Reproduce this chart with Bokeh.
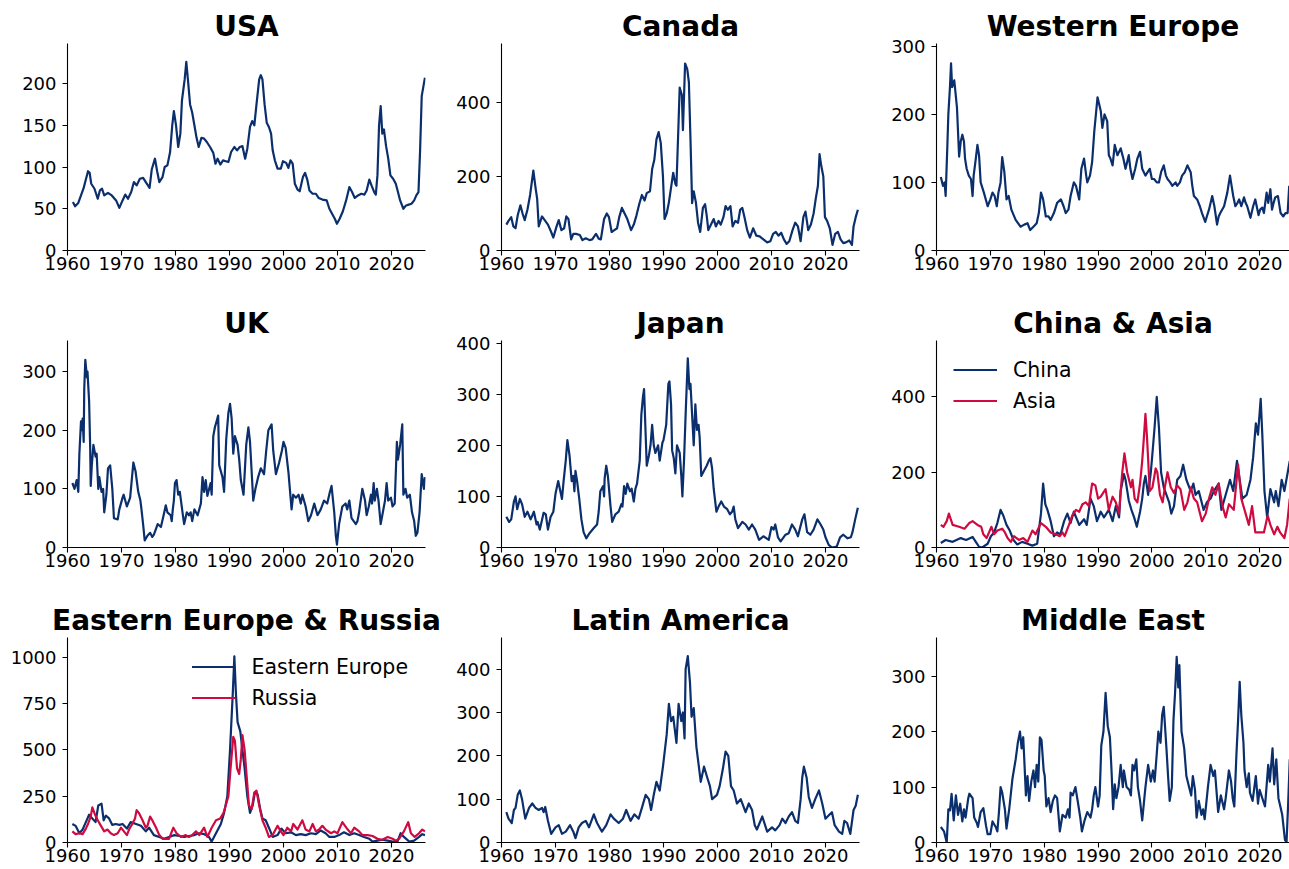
from bokeh.plotting import figure
from bokeh.layouts import column, row
from bokeh.models import Range1d, FixedTicker
from bokeh.embed import file_html
from bokeh.resources import INLINE

NAVY = "#0b2f6d"
RED = "#cf0a40"
FONT = "DejaVu Sans"

x_ticks = [1960, 1970, 1980, 1990, 2000, 2010, 2020]

# ---------------- data ----------------
usa_x = [1961.0, 1961.4, 1962.0, 1962.5, 1963.0, 1963.4, 1963.8, 1964.1, 1964.4, 1965.0, 1965.6, 1966.0, 1966.4, 1966.8, 1967.5, 1968.2, 1969.0, 1969.6, 1970.2, 1970.7, 1971.2, 1971.8, 1972.3, 1972.8, 1973.4, 1974.0, 1974.5, 1975.2, 1975.6, 1976.2, 1976.6, 1977.0, 1977.6, 1978.0, 1978.5, 1979.0, 1979.4, 1979.7, 1980.1, 1980.5, 1980.9, 1981.2, 1981.7, 1982.0, 1982.3, 1982.7, 1983.1, 1983.5, 1983.9, 1984.3, 1984.8, 1985.3, 1985.8, 1986.4, 1987.0, 1987.4, 1987.8, 1988.3, 1988.8, 1989.3, 1989.8, 1990.3, 1990.9, 1991.4, 1991.9, 1992.4, 1992.9, 1993.3, 1993.8, 1994.2, 1994.6, 1995.0, 1995.5, 1995.8, 1996.1, 1996.5, 1996.9, 1997.3, 1997.7, 1998.0, 1998.4, 1998.9, 1999.5, 1999.9, 2000.5, 2000.9, 2001.3, 2001.7, 2002.1, 2002.6, 2003.0, 2003.6, 2004.0, 2004.4, 2004.8, 2005.4, 2006.0, 2006.5, 2007.2, 2008.0, 2008.5, 2009.0, 2009.5, 2009.9, 2010.4, 2011.0, 2011.6, 2012.2, 2012.7, 2013.2, 2013.8, 2014.4, 2015.0, 2015.4, 2015.9, 2016.3, 2016.8, 2017.1, 2017.4, 2017.7, 2018.0, 2018.3, 2018.6, 2019.0, 2019.4, 2019.8, 2020.3, 2020.8, 2021.2, 2021.6, 2022.2, 2022.7, 2023.2, 2023.7, 2024.2, 2024.6, 2025.0, 2025.3, 2025.6, 2026.0, 2026.2]
usa_y = [58, 53, 57, 66, 75, 85, 95, 93, 80, 74, 62, 72, 74, 66, 69, 66, 60, 51, 60, 67, 62, 70, 82, 78, 86, 87, 82, 75, 97, 110, 95, 82, 88, 100, 102, 118, 150, 167, 150, 124, 140, 180, 205, 226, 205, 175, 165, 150, 135, 124, 135, 134, 130, 124, 117, 104, 110, 103, 108, 107, 106, 118, 124, 120, 124, 125, 110, 122, 148, 155, 150, 175, 205, 210, 205, 175, 153, 148, 140, 120, 108, 98, 98, 107, 105, 99, 108, 104, 80, 73, 71, 88, 93, 85, 72, 68, 68, 63, 61, 60, 50, 44, 38, 32, 38, 47, 60, 76, 70, 63, 66, 68, 67, 72, 85, 78, 70, 67, 90, 150, 173, 140, 145, 125, 110, 90, 86, 80, 70, 60, 50, 54, 55, 56, 60, 66, 70, 120, 185, 200, 207]

canada_x = [1960.9, 1961.3, 1961.8, 1962.2, 1962.6, 1963.0, 1963.5, 1963.9, 1964.3, 1964.8, 1965.3, 1965.9, 1966.3, 1966.6, 1966.9, 1967.5, 1968.0, 1968.6, 1969.2, 1969.6, 1970.2, 1970.6, 1971.1, 1971.6, 1972.0, 1972.4, 1972.9, 1973.3, 1973.8, 1974.5, 1975.0, 1975.6, 1976.3, 1976.8, 1977.5, 1978.0, 1978.4, 1979.0, 1979.5, 1979.9, 1980.4, 1980.9, 1981.4, 1981.8, 1982.3, 1982.8, 1983.3, 1984.0, 1984.5, 1985.0, 1985.5, 1986.0, 1986.5, 1986.9, 1987.5, 1987.9, 1988.3, 1988.7, 1989.1, 1989.5, 1989.9, 1990.2, 1990.6, 1991.0, 1991.5, 1991.8, 1992.2, 1992.4, 1992.8, 1993.0, 1993.4, 1993.6, 1994.0, 1994.4, 1994.7, 1995.0, 1995.3, 1995.6, 1996.0, 1996.4, 1996.8, 1997.3, 1997.7, 1998.0, 1998.3, 1998.8, 1999.3, 1999.7, 2000.2, 2000.6, 2001.1, 2001.5, 2001.9, 2002.4, 2002.8, 2003.3, 2003.8, 2004.2, 2004.6, 2005.0, 2005.5, 2006.0, 2006.6, 2007.2, 2007.8, 2008.5, 2009.2, 2009.8, 2010.3, 2010.8, 2011.3, 2011.8, 2012.3, 2012.8, 2013.3, 2013.9, 2014.4, 2014.9, 2015.4, 2015.9, 2016.3, 2016.8, 2017.3, 2017.8, 2018.2, 2018.6, 2018.9, 2019.2, 2019.6, 2019.9, 2020.3, 2020.8, 2021.3, 2021.8, 2022.3, 2022.8, 2023.3, 2023.8, 2024.4, 2024.9, 2025.2, 2025.6, 2026.0]
canada_y = [70, 80, 90, 65, 60, 95, 122, 100, 82, 110, 150, 216, 170, 140, 65, 92, 82, 70, 50, 35, 65, 82, 55, 60, 92, 85, 30, 45, 45, 42, 28, 33, 28, 30, 45, 32, 30, 85, 100, 90, 50, 55, 60, 90, 115, 100, 85, 55, 70, 95, 125, 150, 135, 155, 160, 220, 245, 300, 320, 290, 200, 85, 100, 130, 180, 210, 180, 175, 350, 440, 420, 325, 505, 490, 455, 300, 128, 160, 130, 75, 50, 115, 125, 95, 55, 70, 85, 65, 80, 70, 90, 120, 110, 120, 65, 80, 75, 110, 115, 90, 55, 35, 60, 40, 38, 30, 22, 25, 45, 50, 40, 48, 30, 18, 25, 55, 75, 65, 25, 90, 105, 55, 70, 100, 140, 175, 260, 230, 200, 90, 80, 60, 15, 45, 50, 30, 20, 22, 27, 15, 65, 90, 110]

weu_x = [1960.8, 1961.2, 1961.5, 1961.7, 1962.0, 1962.2, 1962.5, 1962.7, 1962.9, 1963.3, 1963.8, 1964.2, 1964.5, 1964.8, 1965.1, 1965.3, 1965.6, 1966.0, 1966.4, 1966.7, 1966.9, 1967.3, 1967.6, 1967.9, 1968.2, 1968.8, 1969.5, 1970.0, 1970.4, 1970.8, 1971.2, 1971.5, 1971.9, 1972.2, 1972.6, 1973.0, 1973.4, 1973.9, 1974.7, 1975.6, 1976.3, 1976.9, 1977.4, 1978.0, 1978.6, 1979.0, 1979.4, 1979.8, 1980.3, 1980.8, 1981.2, 1981.8, 1982.4, 1983.1, 1983.6, 1984.0, 1984.5, 1984.9, 1985.5, 1985.9, 1986.5, 1986.9, 1987.4, 1987.8, 1988.0, 1988.5, 1988.9, 1989.3, 1989.9, 1990.2, 1990.5, 1990.8, 1991.2, 1991.7, 1992.0, 1992.3, 1992.7, 1993.1, 1993.6, 1994.2, 1994.7, 1995.1, 1995.7, 1996.0, 1996.4, 1996.9, 1997.3, 1997.8, 1998.2, 1998.8, 1999.2, 1999.6, 2000.0, 2000.4, 2000.9, 2001.3, 2001.7, 2002.2, 2002.6, 2002.9, 2003.4, 2003.8, 2004.4, 2004.7, 2005.2, 2005.6, 2006.1, 2006.6, 2007.2, 2007.5, 2007.8, 2008.4, 2008.9, 2009.3, 2009.9, 2010.2, 2010.6, 2011.2, 2011.6, 2012.1, 2012.4, 2012.7, 2013.4, 2014.0, 2014.5, 2014.8, 2015.1, 2015.5, 2015.9, 2016.2, 2016.6, 2017.1, 2017.4, 2017.7, 2018.3, 2018.8, 2019.2, 2019.8, 2020.1, 2020.5, 2020.8, 2021.3, 2021.6, 2022.0, 2022.3, 2022.6, 2022.9, 2023.4, 2023.9, 2024.4, 2024.8, 2025.2, 2025.5]
weu_y = [108, 95, 100, 80, 150, 200, 240, 275, 240, 250, 210, 138, 160, 170, 160, 135, 120, 110, 105, 80, 110, 135, 155, 140, 100, 85, 65, 75, 85, 80, 65, 85, 100, 137, 115, 75, 80, 60, 45, 35, 38, 40, 30, 35, 40, 55, 85, 75, 50, 50, 45, 55, 70, 75, 65, 55, 60, 80, 100, 95, 75, 120, 135, 110, 100, 110, 130, 175, 225, 215, 205, 180, 200, 190, 140, 135, 125, 155, 140, 150, 135, 120, 140, 120, 105, 120, 135, 145, 120, 110, 115, 120, 105, 105, 100, 100, 115, 125, 110, 105, 100, 95, 100, 95, 100, 110, 115, 125, 115, 95, 80, 75, 65, 55, 42, 50, 60, 80, 65, 38, 50, 55, 65, 85, 110, 95, 80, 65, 70, 75, 65, 78, 70, 65, 48, 65, 75, 52, 60, 63, 55, 85, 70, 90, 60, 70, 78, 80, 55, 50, 55, 55, 95]

uk_x = [1960.9, 1961.3, 1961.7, 1962.0, 1962.2, 1962.5, 1962.7, 1962.8, 1963.0, 1963.1, 1963.3, 1963.6, 1963.7, 1964.0, 1964.2, 1964.3, 1964.5, 1964.8, 1965.2, 1965.4, 1965.7, 1965.9, 1966.3, 1966.6, 1966.8, 1967.2, 1967.5, 1967.9, 1968.3, 1968.6, 1969.3, 1969.6, 1970.2, 1970.4, 1971.0, 1971.4, 1971.6, 1971.9, 1972.2, 1972.6, 1973.1, 1973.5, 1973.7, 1974.0, 1974.3, 1974.8, 1975.3, 1975.7, 1976.0, 1976.7, 1977.3, 1977.8, 1978.2, 1978.5, 1979.1, 1979.3, 1979.5, 1979.7, 1979.9, 1980.2, 1980.5, 1980.8, 1981.3, 1981.6, 1982.1, 1982.5, 1982.8, 1983.1, 1983.5, 1984.1, 1984.4, 1984.7, 1985.0, 1985.3, 1985.6, 1985.9, 1986.5, 1986.7, 1987.0, 1987.3, 1987.6, 1987.9, 1988.1, 1988.7, 1989.0, 1989.2, 1989.4, 1989.8, 1990.1, 1990.4, 1990.7, 1991.0, 1991.5, 1991.8, 1992.1, 1992.6, 1993.1, 1993.5, 1993.8, 1994.4, 1994.8, 1995.3, 1995.8, 1996.4, 1996.8, 1997.2, 1997.8, 1998.1, 1998.6, 1999.2, 1999.7, 2000.0, 2000.4, 2000.9, 2001.5, 2001.8, 2002.3, 2002.8, 2003.2, 2003.5, 2004.1, 2004.6, 2005.1, 2005.7, 2006.3, 2006.9, 2007.5, 2008.1, 2008.6, 2008.9, 2009.4, 2009.7, 2009.9, 2010.3, 2010.9, 2011.5, 2011.8, 2012.2, 2012.6, 2013.4, 2013.7, 2014.0, 2014.6, 2015.1, 2015.4, 2015.8, 2016.2, 2016.4, 2016.7, 2016.9, 2017.3, 2017.6, 2018.0, 2018.3, 2018.8, 2019.1, 2019.4, 2019.9, 2020.2, 2020.6, 2021.0, 2021.2, 2021.6, 2022.0, 2022.2, 2022.6, 2022.9, 2023.4, 2023.8, 2024.2, 2024.5, 2024.8, 2025.2, 2025.6, 2026.0, 2026.2]
uk_y = [110, 100, 115, 95, 160, 215, 200, 220, 180, 270, 320, 290, 300, 250, 170, 105, 140, 175, 155, 160, 100, 120, 95, 100, 60, 90, 135, 140, 100, 50, 48, 65, 85, 90, 70, 80, 85, 115, 145, 130, 95, 80, 65, 40, 12, 20, 25, 18, 22, 40, 35, 55, 72, 60, 55, 45, 65, 80, 110, 115, 90, 95, 60, 40, 60, 55, 60, 45, 65, 55, 65, 75, 120, 95, 115, 88, 110, 90, 190, 205, 215, 225, 140, 120, 95, 140, 185, 230, 245, 220, 160, 190, 175, 150, 115, 90, 175, 205, 180, 80, 100, 120, 135, 125, 165, 200, 210, 165, 125, 145, 165, 180, 170, 130, 65, 90, 85, 90, 75, 90, 70, 45, 55, 75, 55, 65, 80, 75, 95, 105, 60, 20, 5, 40, 70, 75, 65, 80, 50, 40, 45, 60, 100, 80, 55, 70, 90, 75, 110, 80, 100, 80, 40, 55, 80, 110, 80, 85, 70, 75, 180, 150, 175, 210, 90, 100, 85, 90, 60, 45, 20, 25, 60, 125, 100, 120]

japan_x = [1960.9, 1961.4, 1961.8, 1962.3, 1962.6, 1962.9, 1963.4, 1963.8, 1964.3, 1964.8, 1965.4, 1966.0, 1966.5, 1966.7, 1967.1, 1967.8, 1968.2, 1968.6, 1969.1, 1969.6, 1970.0, 1970.5, 1970.9, 1971.2, 1971.5, 1971.9, 1972.2, 1972.6, 1973.0, 1973.3, 1973.5, 1973.7, 1974.0, 1974.4, 1974.8, 1975.2, 1975.7, 1976.3, 1977.1, 1977.7, 1978.0, 1978.3, 1978.8, 1979.0, 1979.1, 1979.4, 1979.7, 1980.2, 1980.5, 1981.1, 1981.7, 1982.2, 1982.4, 1982.7, 1983.0, 1983.3, 1983.8, 1984.1, 1984.5, 1984.8, 1985.1, 1985.6, 1985.9, 1986.2, 1986.4, 1986.6, 1986.9, 1987.3, 1987.6, 1987.9, 1988.2, 1988.5, 1989.0, 1989.3, 1989.8, 1990.0, 1990.5, 1990.9, 1991.1, 1991.4, 1991.6, 1991.9, 1992.2, 1992.5, 1993.0, 1993.3, 1993.5, 1993.8, 1994.1, 1994.5, 1994.8, 1995.0, 1995.3, 1995.6, 1995.9, 1996.2, 1996.5, 1996.7, 1997.0, 1997.5, 1998.0, 1998.4, 1998.7, 1999.0, 1999.3, 1999.8, 2000.2, 2000.7, 2001.2, 2001.8, 2002.3, 2002.7, 2003.0, 2003.3, 2003.8, 2004.6, 2005.2, 2005.8, 2006.4, 2007.0, 2007.7, 2008.5, 2009.5, 2010.0, 2010.4, 2010.7, 2011.2, 2011.7, 2012.6, 2013.2, 2013.8, 2014.4, 2014.9, 2015.7, 2016.1, 2016.6, 2017.2, 2017.8, 2018.5, 2019.1, 2019.6, 2020.0, 2020.6, 2021.2, 2022.1, 2022.7, 2023.3, 2024.1, 2024.7, 2025.0, 2025.5, 2026.0]
japan_y = [60, 50, 55, 90, 100, 75, 95, 85, 60, 70, 55, 70, 45, 50, 35, 68, 65, 35, 60, 70, 105, 130, 110, 95, 130, 170, 210, 180, 130, 140, 110, 150, 130, 95, 55, 30, 18, 28, 38, 45, 70, 110, 120, 100, 135, 160, 140, 80, 50, 65, 70, 85, 80, 120, 105, 125, 110, 115, 90, 115, 125, 170, 260, 295, 310, 250, 160, 180, 200, 240, 200, 185, 200, 170, 205, 210, 240, 320, 325, 280, 190, 175, 145, 200, 185, 140, 100, 170, 260, 370, 310, 320, 260, 200, 280, 230, 240, 215, 140, 150, 160, 170, 175, 155, 115, 70, 80, 90, 80, 75, 65, 70, 80, 55, 38, 50, 45, 35, 45, 35, 15, 22, 15, 40, 35, 45, 20, 12, 25, 28, 45, 35, 22, 55, 65, 30, 25, 35, 55, 45, 35, 20, 5, 0, 2, 20, 25, 18, 20, 30, 55, 78]

china_x = [1960.8, 1961.7, 1963.0, 1964.5, 1965.5, 1966.7, 1967.3, 1967.9, 1968.5, 1969.5, 1970.1, 1970.7, 1971.3, 1971.9, 1972.4, 1973.0, 1973.6, 1974.3, 1975.0, 1975.9, 1976.9, 1977.8, 1978.7, 1979.4, 1979.8, 1980.2, 1980.6, 1981.2, 1981.8, 1982.4, 1983.0, 1983.7, 1984.3, 1984.9, 1985.5, 1986.5, 1987.4, 1987.9, 1988.6, 1989.2, 1989.8, 1990.5, 1991.1, 1992.0, 1992.7, 1993.3, 1993.9, 1994.2, 1994.8, 1995.1, 1995.7, 1996.2, 1996.7, 1997.2, 1997.8, 1998.2, 1998.5, 1998.8, 1999.3, 1999.8, 2000.1, 2000.5, 2000.9, 2001.3, 2001.7, 2002.2, 2002.7, 2003.2, 2003.6, 2004.1, 2004.7, 2005.3, 2005.8, 2006.4, 2007.2, 2007.7, 2008.1, 2008.7, 2009.6, 2010.2, 2010.9, 2011.5, 2012.4, 2012.9, 2013.7, 2014.5, 2015.1, 2015.8, 2016.3, 2016.8, 2017.6, 2018.3, 2018.8, 2019.3, 2019.7, 2020.2, 2020.5, 2020.9, 2021.4, 2022.0, 2022.7, 2023.0, 2023.5, 2024.1, 2024.6, 2025.1, 2025.6]
china_y = [12, 20, 15, 25, 20, 28, 15, 2, 0, 10, 30, 40, 65, 100, 85, 60, 45, 20, 8, 15, 10, 5, 10, 90, 170, 115, 100, 70, 30, 40, 35, 70, 90, 65, 95, 60, 75, 60, 130, 110, 70, 95, 80, 100, 70, 110, 80, 150, 195, 180, 125, 100, 80, 55, 95, 130, 170, 190, 140, 200, 250, 320, 400, 320, 200, 160, 140, 120, 90, 110, 180, 190, 220, 180, 150, 170, 140, 150, 100, 120, 130, 150, 170, 100, 140, 180, 150, 230, 180, 130, 140, 180, 240, 330, 300, 395, 300, 150, 80, 155, 120, 150, 110, 180, 150, 190, 230]

asia_x = [1960.8, 1961.3, 1961.9, 1962.3, 1963.0, 1964.2, 1965.2, 1966.1, 1966.7, 1967.6, 1968.3, 1968.7, 1969.3, 1970.2, 1970.7, 1971.3, 1972.2, 1972.7, 1973.2, 1973.8, 1974.4, 1975.3, 1976.1, 1976.9, 1977.8, 1978.4, 1979.4, 1980.3, 1981.2, 1982.1, 1982.9, 1983.4, 1983.8, 1984.6, 1985.2, 1985.9, 1986.5, 1987.1, 1987.7, 1988.3, 1988.9, 1989.5, 1990.0, 1990.5, 1991.4, 1992.0, 1992.7, 1993.3, 1993.9, 1994.2, 1994.5, 1994.9, 1995.4, 1996.1, 1996.4, 1996.8, 1997.3, 1997.8, 1998.2, 1998.5, 1998.8, 1999.1, 1999.6, 2000.1, 2000.7, 2001.0, 2001.5, 2002.0, 2002.4, 2002.9, 2003.5, 2004.1, 2004.7, 2005.3, 2006.0, 2006.6, 2007.2, 2007.8, 2008.4, 2009.3, 2010.0, 2010.6, 2011.2, 2011.8, 2012.4, 2013.1, 2013.7, 2014.3, 2015.2, 2016.0, 2016.6, 2017.4, 2018.0, 2018.6, 2019.2, 2020.0, 2020.8, 2021.5, 2022.0, 2022.7, 2023.3, 2023.8, 2024.6, 2025.1, 2025.6]
asia_y = [60, 55, 70, 90, 60, 55, 50, 65, 70, 60, 55, 35, 25, 55, 35, 45, 50, 40, 25, 15, 30, 20, 25, 15, 45, 35, 65, 55, 40, 35, 30, 40, 30, 60, 85, 100, 95, 115, 120, 110, 170, 165, 130, 135, 155, 100, 135, 120, 90, 150, 200, 250, 200, 160, 180, 130, 120, 170, 230, 290, 355, 290, 150, 160, 210, 200, 140, 120, 160, 200, 160, 145, 165, 155, 100, 120, 160, 130, 120, 70, 90, 130, 160, 140, 170, 110, 80, 115, 100, 220, 130, 90, 60, 110, 40, 40, 40, 85, 60, 35, 55, 40, 25, 60, 130]

eeu_x = [1960.9, 1961.5, 1962.2, 1962.8, 1963.4, 1964.0, 1964.6, 1965.2, 1965.7, 1966.3, 1966.7, 1967.1, 1967.7, 1968.3, 1968.9, 1969.6, 1970.2, 1971.0, 1971.7, 1972.7, 1973.6, 1974.5, 1975.1, 1976.0, 1977.0, 1977.9, 1978.8, 1979.8, 1980.7, 1981.6, 1982.5, 1983.5, 1984.4, 1985.3, 1986.2, 1986.7, 1987.5, 1988.4, 1989.0, 1989.6, 1990.1, 1990.6, 1990.9, 1991.2, 1991.5, 1992.0, 1992.4, 1992.8, 1993.3, 1993.8, 1994.3, 1994.7, 1995.2, 1995.7, 1996.1, 1996.7, 1997.3, 1998.0, 1998.9, 1999.6, 2000.4, 2001.4, 2002.3, 2003.2, 2004.1, 2005.1, 2006.0, 2006.9, 2007.8, 2008.5, 2009.4, 2010.3, 2011.2, 2012.2, 2013.1, 2014.0, 2014.9, 2015.9, 2016.5, 2017.4, 2018.3, 2019.3, 2020.2, 2021.1, 2021.7, 2022.3, 2023.3, 2024.2, 2025.1, 2025.7, 2026.2]
eeu_y = [100, 90, 50, 70, 110, 150, 130, 110, 200, 210, 120, 145, 130, 95, 100, 95, 100, 75, 110, 100, 90, 60, 80, 40, 30, 20, 30, 40, 35, 30, 35, 40, 50, 45, 30, 5, 50, 100, 160, 250, 500, 800, 1005, 800, 650, 600, 500, 400, 250, 160, 200, 270, 260, 180, 130, 120, 80, 30, 40, 75, 50, 55, 40, 45, 40, 50, 45, 65, 50, 30, 30, 40, 55, 40, 50, 40, 30, 20, 5, 10, 15, 10, 5, 5, 50, 30, 5, 10, 30, 45, 40]

russia_x = [1960.9, 1961.5, 1962.2, 1962.8, 1963.4, 1963.8, 1964.3, 1964.6, 1965.1, 1965.6, 1966.2, 1966.8, 1967.4, 1968.0, 1968.6, 1969.3, 1969.9, 1971.0, 1971.4, 1972.0, 1972.5, 1972.8, 1973.2, 1973.9, 1974.5, 1974.8, 1975.3, 1975.7, 1976.4, 1977.0, 1977.6, 1978.8, 1979.6, 1980.2, 1981.0, 1981.9, 1982.5, 1983.1, 1983.8, 1984.4, 1985.3, 1985.9, 1986.7, 1987.5, 1988.3, 1988.9, 1989.3, 1989.8, 1990.2, 1990.7, 1991.0, 1991.4, 1991.8, 1992.1, 1992.4, 1992.8, 1993.2, 1993.6, 1994.1, 1994.6, 1995.0, 1995.5, 1996.1, 1996.7, 1997.3, 1998.0, 1998.9, 1999.5, 2000.0, 2000.7, 2001.4, 2001.8, 2002.6, 2003.5, 2004.1, 2004.8, 2005.4, 2006.0, 2006.6, 2007.2, 2007.8, 2008.8, 2009.4, 2010.0, 2010.9, 2011.9, 2012.5, 2013.1, 2014.0, 2014.6, 2015.6, 2016.5, 2017.4, 2018.3, 2019.3, 2020.2, 2020.8, 2021.4, 2022.3, 2023.1, 2023.6, 2024.3, 2025.1, 2025.7, 2026.2]
russia_y = [60, 45, 50, 45, 75, 100, 140, 190, 150, 120, 90, 60, 70, 50, 40, 50, 80, 40, 70, 100, 130, 175, 160, 120, 80, 90, 140, 120, 80, 40, 20, 20, 80, 50, 30, 40, 30, 40, 60, 40, 80, 30, 80, 120, 130, 160, 200, 250, 400, 570, 550, 400, 370, 450, 580, 500, 350, 200, 180, 270, 280, 200, 120, 80, 30, 40, 90, 60, 40, 80, 60, 100, 70, 120, 70, 60, 100, 60, 70, 90, 70, 50, 60, 50, 110, 70, 50, 80, 60, 40, 40, 35, 20, 15, 30, 20, 10, 20, 60, 110, 50, 30, 50, 70, 60]

latam_x = [1960.9, 1961.3, 1961.9, 1962.3, 1962.6, 1963.0, 1963.4, 1963.8, 1964.4, 1965.1, 1965.7, 1966.3, 1966.9, 1967.5, 1967.8, 1968.1, 1968.6, 1969.2, 1970.0, 1970.6, 1971.2, 1971.9, 1972.7, 1973.3, 1973.7, 1974.3, 1974.9, 1975.6, 1976.2, 1977.1, 1977.7, 1978.6, 1979.4, 1980.2, 1980.8, 1981.7, 1982.5, 1983.1, 1983.9, 1984.6, 1985.4, 1986.0, 1986.7, 1987.3, 1987.7, 1988.2, 1988.7, 1989.3, 1989.9, 1990.6, 1991.0, 1991.4, 1991.8, 1992.4, 1992.8, 1993.3, 1993.6, 1993.9, 1994.1, 1994.5, 1994.9, 1995.2, 1995.6, 1996.1, 1996.5, 1996.9, 1997.5, 1998.1, 1998.6, 1999.0, 1999.9, 2000.4, 2001.0, 2001.5, 2002.0, 2002.5, 2003.0, 2003.6, 2004.3, 2005.2, 2005.8, 2006.4, 2006.9, 2007.3, 2008.3, 2009.2, 2010.1, 2010.7, 2011.5, 2012.0, 2012.6, 2013.2, 2013.8, 2014.4, 2014.9, 2015.4, 2015.7, 2016.0, 2016.5, 2016.9, 2017.5, 2018.1, 2018.8, 2019.4, 2020.0, 2020.8, 2021.2, 2021.7, 2022.5, 2023.1, 2023.5, 2024.0, 2024.6, 2025.2, 2025.6, 2026.0]
latam_y = [70, 55, 45, 75, 80, 110, 120, 100, 55, 80, 90, 80, 75, 80, 70, 82, 50, 20, 35, 40, 20, 25, 40, 25, 10, 35, 45, 50, 35, 65, 45, 25, 40, 65, 55, 45, 55, 75, 50, 65, 55, 80, 110, 100, 75, 110, 140, 120, 175, 250, 320, 280, 290, 230, 320, 280, 300, 240, 400, 430, 370, 290, 310, 220, 180, 140, 175, 150, 130, 100, 110, 130, 170, 210, 200, 130, 120, 90, 100, 70, 90, 75, 40, 30, 60, 25, 35, 28, 40, 55, 45, 60, 70, 50, 45, 100, 150, 175, 150, 105, 80, 100, 120, 90, 55, 65, 70, 40, 25, 20, 50, 45, 20, 75, 85, 110]

mideast_x = [1960.8, 1961.4, 1961.9, 1962.2, 1962.5, 1962.8, 1963.2, 1963.6, 1964.0, 1964.4, 1964.8, 1965.1, 1965.4, 1965.9, 1966.1, 1966.7, 1967.0, 1967.5, 1967.7, 1968.2, 1968.7, 1969.2, 1969.5, 1970.0, 1970.4, 1971.0, 1971.3, 1971.6, 1971.9, 1972.2, 1972.7, 1973.0, 1973.5, 1974.1, 1974.7, 1975.1, 1975.5, 1975.8, 1976.1, 1976.3, 1976.6, 1976.9, 1977.2, 1977.6, 1978.0, 1978.3, 1978.6, 1978.9, 1979.2, 1979.5, 1979.9, 1980.1, 1980.4, 1980.8, 1981.2, 1981.6, 1982.0, 1982.4, 1982.9, 1983.4, 1984.0, 1984.4, 1984.7, 1984.9, 1985.3, 1985.8, 1986.3, 1986.7, 1987.0, 1987.5, 1988.0, 1988.6, 1988.9, 1989.2, 1989.5, 1990.0, 1990.3, 1990.6, 1991.0, 1991.4, 1991.8, 1992.2, 1992.5, 1992.8, 1993.1, 1993.4, 1993.8, 1994.2, 1994.6, 1994.8, 1995.3, 1995.8, 1996.1, 1996.4, 1996.7, 1997.1, 1997.4, 1997.8, 1998.2, 1998.5, 1998.8, 1999.3, 1999.8, 2000.2, 2000.5, 2000.9, 2001.2, 2001.6, 2001.9, 2002.2, 2002.7, 2003.0, 2003.3, 2003.7, 2004.0, 2004.3, 2004.6, 2004.9, 2005.1, 2005.5, 2006.0, 2006.4, 2006.9, 2007.3, 2007.6, 2008.0, 2008.3, 2008.7, 2009.2, 2009.5, 2009.8, 2010.4, 2010.9, 2011.4, 2011.7, 2012.3, 2012.8, 2013.4, 2013.7, 2014.3, 2014.7, 2015.0, 2015.3, 2015.7, 2016.0, 2016.3, 2016.6, 2017.0, 2017.2, 2017.6, 2018.0, 2018.2, 2018.7, 2019.3, 2019.7, 2020.0, 2021.0, 2021.6, 2021.9, 2022.4, 2022.7, 2023.1, 2023.5, 2024.2, 2024.7, 2025.0, 2025.3, 2025.6]
mideast_y = [28, 20, 0, 60, 58, 88, 40, 85, 50, 70, 38, 60, 45, 80, 88, 80, 45, 35, 28, 55, 62, 30, 15, 15, 38, 28, 20, 55, 100, 90, 60, 25, 60, 115, 150, 180, 200, 170, 190, 150, 85, 120, 75, 110, 130, 100, 140, 110, 190, 185, 130, 120, 65, 80, 55, 75, 85, 80, 20, 50, 45, 60, 45, 90, 85, 100, 70, 45, 20, 40, 55, 45, 60, 85, 100, 65, 85, 175, 200, 270, 210, 190, 130, 60, 105, 80, 100, 140, 100, 130, 100, 95, 85, 140, 130, 150, 100, 75, 40, 70, 100, 140, 110, 130, 110, 160, 200, 180, 230, 245, 170, 120, 75, 100, 220, 270, 335, 280, 320, 200, 170, 120, 100, 85, 120, 95, 45, 75, 50, 60, 42, 100, 140, 120, 130, 55, 85, 60, 80, 130, 110, 80, 65, 160, 220, 290, 230, 180, 130, 100, 125, 90, 75, 120, 70, 95, 65, 140, 110, 170, 105, 150, 80, 50, 5, 0, 70, 150]

# y-axis ticks per panel
usa_ticks = [0, 50, 100, 150, 200]
canada_ticks = [0, 200, 400]
weu_ticks = [0, 100, 200, 300]
uk_ticks = [0, 100, 200, 300]
japan_ticks = [0, 100, 200, 300, 400]
china_ticks = [0, 200, 400]
eeu_ticks = [0, 250, 500, 750, 1000]
latam_ticks = [0, 100, 200, 300, 400]
mideast_ticks = [0, 100, 200, 300]

# ---------------- layout geometry ----------------
COLS = [  # (fig width, left border, right border, x-range end)
    (442, 67, 17, 2026.3),
    (435, 59, 18, 2026.3),
    (412, 59, 0, 2025.55),
]
ROWS = [  # (top border, frame height, bottom border)
    (43, 207, 54),
    (35, 208, 54),
    (35, 206, 27),
]


def panel(col, rowi, title, series, ymax, yticks, legend=None):
    w, lb, rb, xend = COLS[col]
    top, fh, bottom = ROWS[rowi]
    h = top + fh + bottom
    p = figure(width=w, height=h, x_range=Range1d(1960, xend), y_range=Range1d(0, ymax),
               output_backend="svg", toolbar_location=None,
               min_border_left=lb, min_border_right=rb,
               min_border_top=top, min_border_bottom=bottom)
    p.title.text = title
    p.title.align = "center"
    p.title.text_font = FONT
    p.title.text_font_size = "28px"
    p.title.text_font_style = "bold"
    p.title.text_color = "black"
    p.title.standoff = 1
    p.outline_line_color = None
    p.xgrid.visible = False
    p.ygrid.visible = False
    p.background_fill_color = "white"
    p.border_fill_color = "white"
    for ax in (p.xaxis[0], p.yaxis[0]):
        ax.axis_line_color = "black"
        ax.axis_line_width = 1.1
        ax.major_tick_line_color = "black"
        ax.major_tick_line_width = 1.1
        ax.major_tick_in = 0
        ax.major_tick_out = 5
        ax.minor_tick_line_color = None
        ax.major_label_text_font = FONT
        ax.major_label_text_font_size = "18px"
        ax.major_label_text_color = "black"
    p.xaxis[0].ticker = FixedTicker(ticks=x_ticks)
    p.yaxis[0].ticker = FixedTicker(ticks=yticks)
    p.xaxis[0].major_label_standoff = 1
    p.yaxis[0].major_label_standoff = 6
    for xs, ys, color, label in series:
        kw = {}
        if label is not None:
            kw["legend_label"] = label
        p.line(xs, ys, line_color=color, line_width=2.2, line_join="round", **kw)
    if legend is not None:
        lg = p.legend[0]
        lg.location = legend
        lg.border_line_color = None
        lg.background_fill_alpha = 0
        lg.label_text_font = FONT
        lg.label_text_font_size = "20.5px"
        lg.label_text_color = "black"
        lg.glyph_width = 44
        lg.glyph_height = 25
        lg.label_height = 25
        lg.label_standoff = 16
        lg.spacing = 6
        lg.padding = 6
        lg.margin = 17
    return p


p_usa = panel(0, 0, "USA", [(usa_x, usa_y, NAVY, None)], 248, usa_ticks)
p_can = panel(1, 0, "Canada", [(canada_x, canada_y, NAVY, None)], 559, canada_ticks)
p_weu = panel(2, 0, "Western Europe", [(weu_x, weu_y, NAVY, None)], 304, weu_ticks)
p_uk = panel(0, 1, "UK", [(uk_x, uk_y, NAVY, None)], 353, uk_ticks)
p_jp = panel(1, 1, "Japan", [(japan_x, japan_y, NAVY, None)], 405, japan_ticks)
p_ca = panel(2, 1, "China & Asia", [(china_x, china_y, NAVY, "China"), (asia_x, asia_y, RED, "Asia")],
             550, china_ticks, legend="top_left")
p_ee = panel(0, 2, "Eastern Europe & Russia", [(eeu_x, eeu_y, NAVY, "Eastern Europe"), (russia_x, russia_y, RED, "Russia")],
             1107, eeu_ticks, legend="top_right")
p_la = panel(1, 2, "Latin America", [(latam_x, latam_y, NAVY, None)], 473, latam_ticks)
p_me = panel(2, 2, "Middle East", [(mideast_x, mideast_y, NAVY, None)], 370, mideast_ticks)

layout = column(row(p_usa, p_can, p_weu, spacing=0),
                row(p_uk, p_jp, p_ca, spacing=0),
                row(p_ee, p_la, p_me, spacing=0), spacing=0)

open("out.html", "w").write(file_html(layout, INLINE))
